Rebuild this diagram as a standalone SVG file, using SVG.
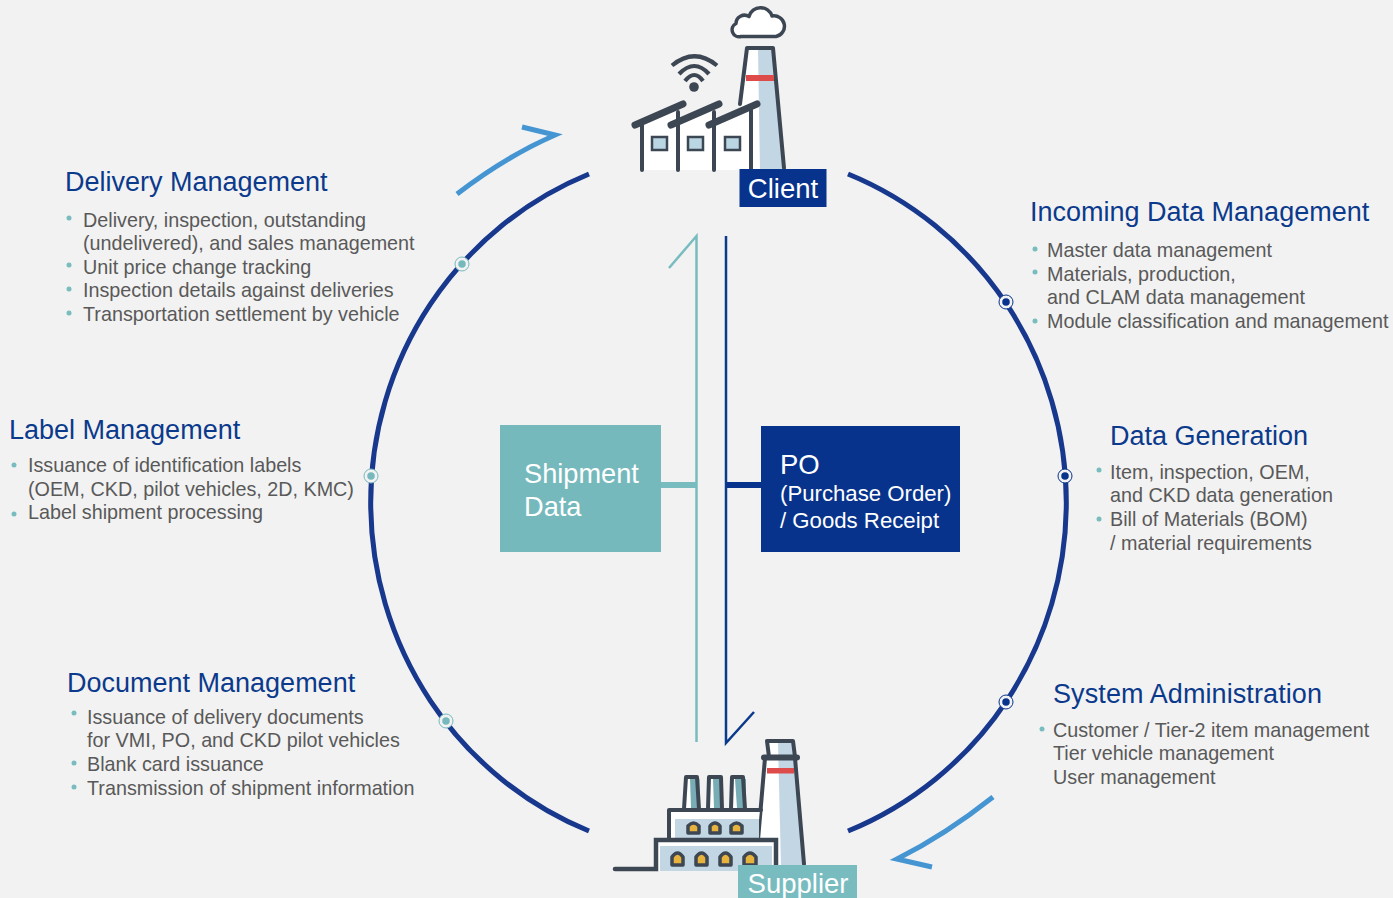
<svg xmlns="http://www.w3.org/2000/svg" width="1393" height="898" viewBox="0 0 1393 898">
<style>
text{font-family:"Liberation Sans",Arial,sans-serif}
.h{font-size:27px;fill:#0b3a8c}
.b{font-size:19.750px;fill:#595959}
.d{fill:#78bcc0}
.w{fill:#fff}
.k{fill:none;stroke:#3d4753;stroke-width:4;stroke-linecap:round;stroke-linejoin:round}
.ring{fill:none;stroke:#17388c;stroke-width:5}
.arr{fill:none;stroke:#4595d2;stroke-width:5;stroke-linejoin:miter;stroke-miterlimit:12}
.dotT{fill:#76b9bd;stroke:#f2f2f2;stroke-width:1.500}
.dotN{fill:#07338c;stroke:#f2f2f2;stroke-width:1.500}
.haloT{fill:#f2f2f2;stroke:#76b9bd;stroke-width:1}
.haloN{fill:#f2f2f2;stroke:#07338c;stroke-width:1}
.win{fill:#e8b33c;stroke:#3d4753;stroke-width:3.500;stroke-linejoin:round}
.stack{fill:#79adb5}
</style>
<rect width="1393" height="898" fill="#f2f2f2"/>
<g id="connectors">
<path class="ring" d="M589 174A348 354 0 0 0 589 831"/>
<path class="ring" d="M848 174A348 354 0 0 1 848 831"/>
<path class="arr" d="M457 194Q505 157 555 135L522 127"/>
<path class="arr" d="M993 797Q945 835 897 859L932 867"/>
<path d="M669 268L696.500 236V742" fill="none" stroke="#78bcc0" stroke-width="2.500"/>
<path d="M726 236V743L754 712" fill="none" stroke="#0b3a8c" stroke-width="2.500"/>
<path d="M661 485H696" stroke="#78bcc0" stroke-width="6"/>
<path d="M727 485H762" stroke="#07338c" stroke-width="6"/>
</g>
<g id="ring-dots">
<circle class="haloT" cx="462" cy="264" r="7"/><circle class="dotT" cx="462" cy="264" r="4.500"/>
<circle class="haloT" cx="371" cy="476" r="7"/><circle class="dotT" cx="371" cy="476" r="4.500"/>
<circle class="haloT" cx="446" cy="721" r="7"/><circle class="dotT" cx="446" cy="721" r="4.500"/>
<circle class="haloN" cx="1006" cy="302" r="7"/><circle class="dotN" cx="1006" cy="302" r="4.500"/>
<circle class="haloN" cx="1065" cy="476" r="7"/><circle class="dotN" cx="1065" cy="476" r="4.500"/>
<circle class="haloN" cx="1006" cy="702" r="7"/><circle class="dotN" cx="1006" cy="702" r="4.500"/>
</g>
<g id="client">
<path d="M747 49H773L784 170H740L741 104Z" fill="#fff"/>
<path d="M758 49H772L783 170H760Z" fill="#c3d6e4"/>
<path d="M740 104L747 48H773L784 168" class="k"/>
<rect x="746" y="75" width="28" height="6" fill="#dd4b4b"/>
<path d="M741 36.500A7 7 0 0 1 736 23.500A8.500 8.500 0 0 1 749 16.500A12 12 0 0 1 772 16A9 9 0 0 1 776 36.500Z" fill="#fff" stroke="#3d4753" stroke-width="3.500" stroke-linejoin="round"/>
<g fill="none" stroke="#3d4753" stroke-width="4.200">
<path d="M672 65.500Q694.500 47 717 65.500"/>
<path d="M679 74Q694.500 58 709 74"/>
<path d="M685 81Q694.500 69 703 81"/>
</g>
<circle cx="694" cy="87" r="4.800" fill="#3d4753"/>
<path d="M642 124L677 108V170H642ZM678 124L714 108V170H678ZM715 124L750 108V170H715Z" fill="#fff"/>
<path d="M642 124V170M678 112V170M714 112V170M751 110V170" class="k"/>
<path d="M635 125L683 104M671 125L719 104M709 125L757 104" fill="none" stroke="#3d4753" stroke-width="7" stroke-linecap="round"/>
<path d="M652 137H667V150H652ZM688 137H703V150H688ZM725 137H740V150H725Z" fill="#b9d6e2" stroke="#3d4753" stroke-width="2.500"/>
<rect x="739.500" y="169" width="87" height="38" fill="#07338c"/>
<text x="783" y="198" font-size="27.500" text-anchor="middle" class="w">Client</text>
</g>
<g id="supplier">
<path d="M768 743H790L804 866H755L762 800Z" fill="#fff"/>
<path d="M778 743H792L804 866H781Z" fill="#c3d6e4"/>
<path d="M769 757L767 741H793L795 757M765 758L758 840M795 758L804 864" class="k"/>
<path d="M764 757.500H797" stroke="#3d4753" stroke-width="6" stroke-linecap="round"/>
<rect x="767" y="768" width="27" height="5.500" fill="#dd4b4b"/>
<path d="M686 778H697L699 809H684ZM709 778H721L722 809H708ZM732 778H743L745 809H731Z" fill="#fff"/>
<path d="M690 779H699.500V808H691ZM713 779H722.500V808H714ZM735 779H746V808H737Z" class="stack"/>
<path d="M684 809L686 777H697L699 809M708 809L709 777H721L722 809M731 809L732 777H743L745 809" class="k" stroke-width="3.500"/>
<path d="M668 810H760L757 840H668Z" fill="#fff"/>
<rect x="675" y="819" width="84" height="20" fill="#c3d6e4"/>
<path d="M669 840V810H761" class="k"/>
<path d="M656 842H776V871H656Z" fill="#fff"/>
<rect x="660" y="846" width="112" height="25" fill="#c3d6e4"/>
<path d="M615 869H656V840H776V866" fill="none" stroke="#3d4753" stroke-width="4.500" stroke-linecap="round"/>
<g>
<path class="win" d="M688 833V826Q693.500 820 699 826V833Z"/><path class="win" d="M710 833V826Q715 820 720 826V833Z"/><path class="win" d="M731 833V826Q736.500 820 742 826V833Z"/>
<path class="win" d="M672 865V857Q677.500 849 683 857V865Z"/><path class="win" d="M696 865V857Q701.500 849 707 857V865Z"/><path class="win" d="M720 865V857Q725.500 849 731 857V865Z"/><path class="win" d="M744 865V857Q750 849 756 857V865Z"/>
</g>
<rect x="738" y="865" width="119" height="33" fill="#78bcc0"/>
<text x="798" y="893" font-size="27.500" text-anchor="middle" class="w">Supplier</text>
</g>
<g id="shipment-data">
<rect x="500" y="425" width="161" height="127" fill="#76b9bd"/>
<text x="524" y="483" font-size="27.200" class="w">Shipment</text>
<text x="524" y="516" font-size="27.200" class="w">Data</text>
</g>
<g id="po">
<rect x="761" y="426" width="199" height="126" fill="#07338c"/>
<text x="780" y="474" font-size="27.500" class="w">PO</text>
<text x="780" y="501" font-size="22.200" class="w">(Purchase Order)</text>
<text x="780" y="528" font-size="22.200" class="w">/ Goods Receipt</text>
</g>
<g id="delivery-management">
<text class="h" x="65" y="191">Delivery Management</text>
<circle class="d" cx="69" cy="218" r="2.500"/><circle class="d" cx="69" cy="265" r="2.500"/><circle class="d" cx="69" cy="289" r="2.500"/><circle class="d" cx="69" cy="313" r="2.500"/>
<text class="b" x="83" y="227">Delivery, inspection, outstanding</text>
<text class="b" x="83" y="250">(undelivered), and sales management</text>
<text class="b" x="83" y="274">Unit price change tracking</text>
<text class="b" x="83" y="297">Inspection details against deliveries</text>
<text class="b" x="83" y="321">Transportation settlement by vehicle</text>
</g>
<g id="label-management">
<text class="h" x="9" y="439">Label Management</text>
<circle class="d" cx="14" cy="465" r="2.500"/><circle class="d" cx="14" cy="514" r="2.500"/>
<text class="b" x="28" y="472">Issuance of identification labels</text>
<text class="b" x="28" y="496">(OEM, CKD, pilot vehicles, 2D, KMC)</text>
<text class="b" x="28" y="519">Label shipment processing</text>
</g>
<g id="document-management">
<text class="h" x="67" y="692">Document Management</text>
<circle class="d" cx="74" cy="713" r="2.500"/><circle class="d" cx="74" cy="763" r="2.500"/><circle class="d" cx="74" cy="787" r="2.500"/>
<text class="b" x="87" y="724">Issuance of delivery documents</text>
<text class="b" x="87" y="747">for VMI, PO, and CKD pilot vehicles</text>
<text class="b" x="87" y="771">Blank card issuance</text>
<text class="b" x="87" y="795">Transmission of shipment information</text>
</g>
<g id="incoming-data-management">
<text class="h" x="1030" y="221">Incoming Data Management</text>
<circle class="d" cx="1035" cy="249" r="2.500"/><circle class="d" cx="1035" cy="272" r="2.500"/><circle class="d" cx="1035" cy="321" r="2.500"/>
<text class="b" x="1047" y="257">Master data management</text>
<text class="b" x="1047" y="281">Materials, production,</text>
<text class="b" x="1047" y="304">and CLAM data management</text>
<text class="b" x="1047" y="328">Module classification and management</text>
</g>
<g id="data-generation">
<text class="h" x="1110" y="445">Data Generation</text>
<circle class="d" cx="1099" cy="470" r="2.500"/><circle class="d" cx="1099" cy="519" r="2.500"/>
<text class="b" x="1110" y="479">Item, inspection, OEM,</text>
<text class="b" x="1110" y="502">and CKD data generation</text>
<text class="b" x="1110" y="526">Bill of Materials (BOM)</text>
<text class="b" x="1110" y="550">/ material requirements</text>
</g>
<g id="system-administration">
<text class="h" x="1053" y="703" textLength="269">System Administration</text>
<circle class="d" cx="1042" cy="729" r="2.500"/>
<text class="b" x="1053" y="737">Customer / Tier-2 item management</text>
<text class="b" x="1053" y="760">Tier vehicle management</text>
<text class="b" x="1053" y="784">User management</text>
</g>
</svg>
